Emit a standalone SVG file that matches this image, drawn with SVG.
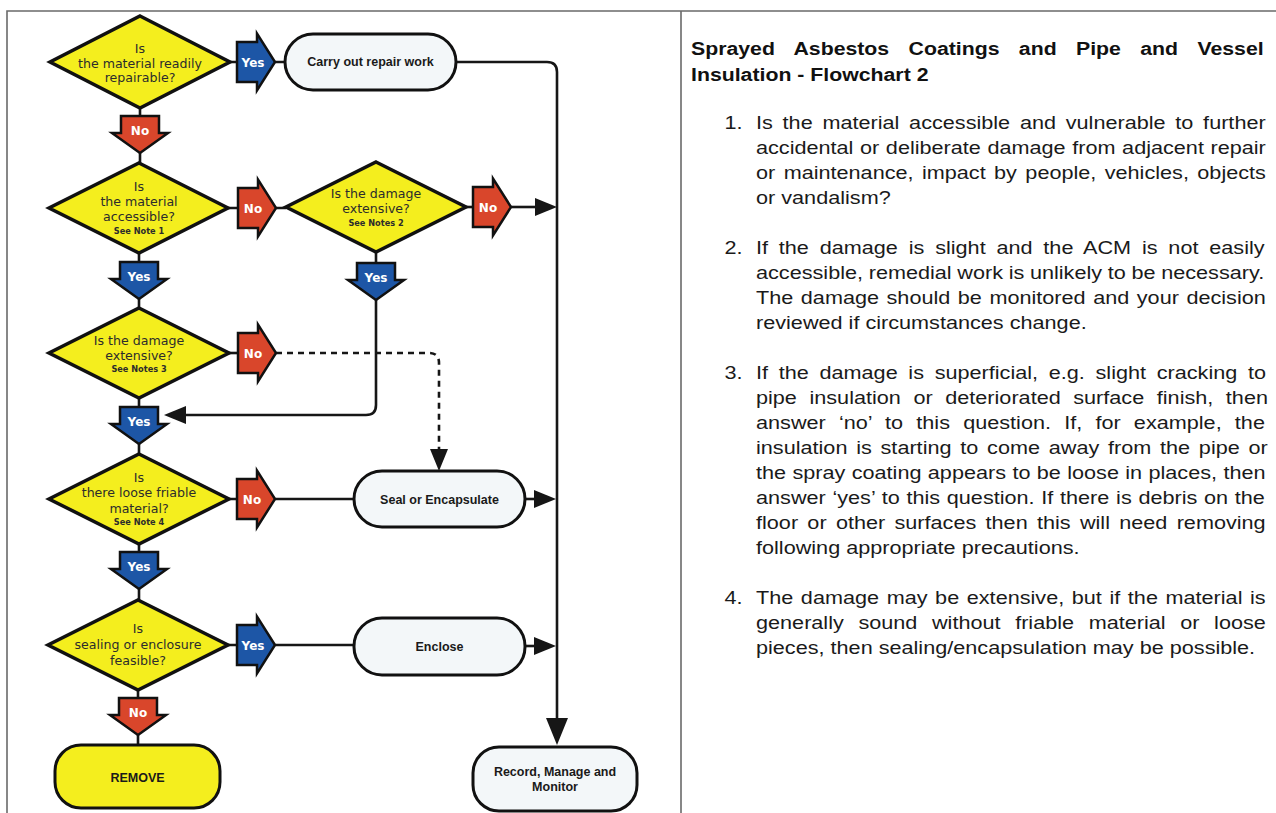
<svg xmlns="http://www.w3.org/2000/svg" width="1276" height="813" viewBox="0 0 1276 813">
<defs>
<style>
.frame{stroke:#6a6a6a;stroke-width:1.6;fill:none}
.dia{fill:#f4ee1e;stroke:#111;stroke-width:3.5;stroke-linejoin:miter}
.box{fill:#f3f7f9;stroke:#111;stroke-width:3}
.rem{fill:#f4ee1e;stroke:#111;stroke-width:3}
.yes{fill:#1d56a6;stroke:#111;stroke-width:2.5;stroke-linejoin:miter}
.no{fill:#d9462b;stroke:#111;stroke-width:2.5;stroke-linejoin:miter}
.con{fill:none;stroke:#161616;stroke-width:2.6}
.dash{fill:none;stroke:#161616;stroke-width:2.6;stroke-dasharray:6 5}
.dt{font-family:"DejaVu Sans",Verdana,sans-serif;font-size:12.6px;fill:#2c2c2c;text-anchor:middle}
.nt{font-family:"DejaVu Sans",Verdana,sans-serif;font-size:8.2px;font-weight:bold;fill:#2c2c2c;text-anchor:middle}
.lab{font-family:"DejaVu Sans",Verdana,sans-serif;font-size:12px;font-weight:bold;fill:#fff;text-anchor:middle}
.bt{font-family:"Liberation Sans",Arial,sans-serif;font-size:12.5px;font-weight:bold;fill:#1a1a1a;text-anchor:middle}
.title{font-family:"Liberation Sans",Arial,sans-serif;font-size:19px;font-weight:bold;fill:#111}
.body{font-family:"Liberation Sans",Arial,sans-serif;font-size:18.5px;fill:#1a1a1a}
</style>
<path id="arrR" d="M0,-20 H20 V-28.5 L38,0 L20,28.5 V20 H0 Z"/>
<path id="arrD" d="M-19,0 H19 V17 H28 L0,37 L-28,17 H-19 Z"/>
<marker id="ah" markerUnits="userSpaceOnUse" markerWidth="24" markerHeight="20" refX="0" refY="9" orient="auto">
<path d="M0,0 L22,9 L0,18 Z" fill="#161616"/>
</marker>
<marker id="ahL" markerUnits="userSpaceOnUse" markerWidth="30" markerHeight="24" refX="0" refY="11" orient="auto">
<path d="M0,0 L27,11 L0,22 Z" fill="#161616"/>
</marker>
</defs>
<rect width="1276" height="813" fill="#fff"/>
<g id="frame">
<path class="frame" d="M7,813 V11 H1276 M681,11 V813"/>
</g>
<g id="connectors">
<path class="con" d="M229,62 H237 M275,62 H285"/>
<path class="con" d="M456,62 H547 Q557,62 557,72 V718" marker-end="url(#ahL)"/>
<path class="con" d="M140,108 V116 M140,153 V163"/>
<path class="con" d="M228,208 H238 M276,208 H286"/>
<path class="con" d="M466,207 H473"/>
<path class="con" d="M511,207 H535" marker-end="url(#ah)"/>
<path class="con" d="M139,253 V262 M139,299 V308"/>
<path class="con" d="M376,252 V263"/>
<path class="con" d="M376,300 V405 Q376,415 366,415 H186" marker-end="url(#ah)"/>
<path class="con" d="M229,353 H238"/>
<path class="dash" d="M276,353 H429 Q439,353 439,363 V449" marker-end="url(#ah)"/>
<path class="con" d="M139,398 V407 M139,444 V454"/>
<path class="con" d="M229,499 H237 M275,499 H354"/>
<path class="con" d="M525,499 H534" marker-end="url(#ah)"/>
<path class="con" d="M139,544 V552 M139,589 V600"/>
<path class="con" d="M228,645 H237 M275,645 H354"/>
<path class="con" d="M525,646 H534" marker-end="url(#ah)"/>
<path class="con" d="M138,690 V698 M138,735 V745"/>
</g>
<g id="branch-labels">
<use href="#arrR" class="yes" x="237" y="62"/><text class="lab" x="253" y="66.5">Yes</text>
<use href="#arrR" class="no" x="238" y="208"/><text class="lab" x="253" y="212.5">No</text>
<use href="#arrR" class="no" x="473" y="207"/><text class="lab" x="488" y="211.5">No</text>
<use href="#arrR" class="no" x="238" y="353"/><text class="lab" x="253" y="357.5">No</text>
<use href="#arrR" class="no" x="237" y="499"/><text class="lab" x="252" y="503.5">No</text>
<use href="#arrR" class="yes" x="237" y="645"/><text class="lab" x="253" y="649.5">Yes</text>
<use href="#arrD" class="no" x="140" y="116"/><text class="lab" x="140" y="135">No</text>
<use href="#arrD" class="yes" x="139" y="262"/><text class="lab" x="139" y="281">Yes</text>
<use href="#arrD" class="yes" x="376" y="263"/><text class="lab" x="376" y="282">Yes</text>
<use href="#arrD" class="yes" x="139" y="407"/><text class="lab" x="139" y="426">Yes</text>
<use href="#arrD" class="yes" x="139" y="552"/><text class="lab" x="139" y="571">Yes</text>
<use href="#arrD" class="no" x="138" y="698"/><text class="lab" x="138" y="717">No</text>
</g>
<g id="d1">
<polygon class="dia" points="140,16 230,62 140,108 50,62"/>
<text class="dt" x="140" y="53">Is</text>
<text class="dt" x="140" y="67.5">the material readily</text>
<text class="dt" x="140" y="82">repairable?</text>
</g>
<g id="d2">
<polygon class="dia" points="139,163 228,208 139,253 49,208"/>
<text class="dt" x="139" y="191">Is</text>
<text class="dt" x="139" y="206">the material</text>
<text class="dt" x="139" y="221">accessible?</text>
<text class="nt" x="139" y="234">See Note 1</text>
</g>
<g id="d3">
<polygon class="dia" points="376,162 466,207 376,252 286,207"/>
<text class="dt" x="376" y="198">Is the damage</text>
<text class="dt" x="376" y="213">extensive?</text>
<text class="nt" x="376" y="226">See Notes 2</text>
</g>
<g id="d4">
<polygon class="dia" points="139,308 229,353 139,398 49,353"/>
<text class="dt" x="139" y="345">Is the damage</text>
<text class="dt" x="139" y="360">extensive?</text>
<text class="nt" x="139" y="372">See Notes 3</text>
</g>
<g id="d5">
<polygon class="dia" points="139,454 229,499 139,544 49,499"/>
<text class="dt" x="139" y="482">Is</text>
<text class="dt" x="139" y="497">there loose friable</text>
<text class="dt" x="139" y="513">material?</text>
<text class="nt" x="139" y="525">See Note 4</text>
</g>
<g id="d6">
<polygon class="dia" points="138,600 228,645 138,690 48,645"/>
<text class="dt" x="138" y="633">Is</text>
<text class="dt" x="138" y="649">sealing or enclosure</text>
<text class="dt" x="138" y="665">feasible?</text>
</g>
<g id="repair">
<rect class="box" x="285" y="34" width="171" height="56" rx="28"/>
<text class="bt" x="370.5" y="66">Carry out repair work</text>
</g>
<g id="seal">
<rect class="box" x="354" y="471" width="171" height="56" rx="28"/>
<text class="bt" x="439.5" y="503.5">Seal or Encapsulate</text>
</g>
<g id="enclose">
<rect class="box" x="354" y="618" width="171" height="57" rx="28"/>
<text class="bt" x="439.5" y="650.5">Enclose</text>
</g>
<g id="remove">
<rect class="rem" x="55" y="745" width="165" height="63" rx="26"/>
<text class="bt" x="137.5" y="781.5">REMOVE</text>
</g>
<g id="record">
<rect class="box" x="473" y="747" width="164" height="64" rx="26"/>
<text class="bt" x="555" y="776">Record, Manage and</text>
<text class="bt" x="555" y="791">Monitor</text>
</g>
<g id="notes">
<g transform="translate(691 0) scale(1.12 1)">
<text class="title" x="0" y="55" word-spacing="12">Sprayed Asbestos Coatings and Pipe and Vessel</text>
<text class="title" x="0" y="81">Insulation - Flowchart 2</text>
</g>
<g transform="translate(756 0) scale(1.17 1)">
<text class="body" x="-27" y="129.5">1.</text>
<text class="body" x="0" y="129.5" word-spacing="3.2">Is the material accessible and vulnerable to further</text>
<text class="body" x="0" y="154.5" word-spacing="0.5">accidental or deliberate damage from adjacent repair</text>
<text class="body" x="0" y="179.5" word-spacing="2.05">or maintenance, impact by people, vehicles, objects</text>
<text class="body" x="0" y="204.5">or vandalism?</text>
<text class="body" x="-27" y="254.5">2.</text>
<text class="body" x="0" y="254.5" word-spacing="4.1">If the damage is slight and the ACM is not easily</text>
<text class="body" x="0" y="279.5" word-spacing="-0.3">accessible, remedial work is unlikely to be necessary.</text>
<text class="body" x="0" y="304.5" word-spacing="1.3">The damage should be monitored and your decision</text>
<text class="body" x="0" y="329.5">reviewed if circumstances change.</text>
<text class="body" x="-27" y="379.5">3.</text>
<text class="body" x="0" y="379.5" word-spacing="4">If the damage is superficial, e.g. slight cracking to</text>
<text class="body" x="0" y="404.5" word-spacing="5.6">pipe insulation or deteriorated surface finish, then</text>
<text class="body" x="0" y="429.5" word-spacing="6.15">answer ‘no’ to this question. If, for example, the</text>
<text class="body" x="0" y="454.5" word-spacing="2.35">insulation is starting to come away from the pipe or</text>
<text class="body" x="0" y="479.5" word-spacing="0.3">the spray coating appears to be loose in places, then</text>
<text class="body" x="0" y="504.5" word-spacing="0.6">answer ‘yes’ to this question. If there is debris on the</text>
<text class="body" x="0" y="529.5" word-spacing="2.8">floor or other surfaces then this will need removing</text>
<text class="body" x="0" y="554.5">following appropriate precautions.</text>
<text class="body" x="-27" y="604.5">4.</text>
<text class="body" x="0" y="604.5" word-spacing="1.35">The damage may be extensive, but if the material is</text>
<text class="body" x="0" y="629.5" word-spacing="7.35">generally sound without friable material or loose</text>
<text class="body" x="0" y="654.5">pieces, then sealing/encapsulation may be possible.</text>
</g>
</g>
</svg>
